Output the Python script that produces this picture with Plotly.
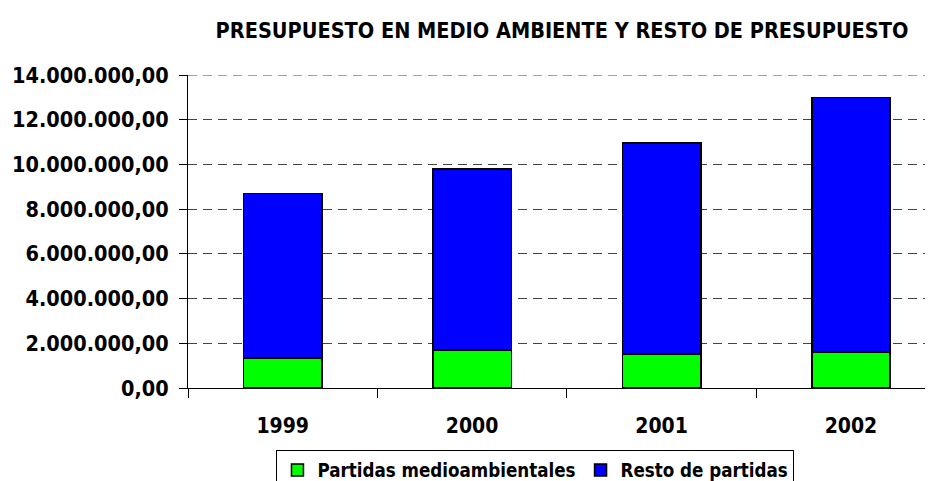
import plotly.graph_objects as go

years = ["1999", "2000", "2001", "2002"]
partidas_medioambientales = [1345000, 1690000, 1510000, 1600000]
resto_partidas = [7365000, 8100000, 9440000, 11400000]
y_ticks = [0, 2000000, 4000000, 6000000, 8000000, 10000000, 12000000, 14000000]

FONT = "DejaVu Sans Condensed, DejaVu Sans"

# page body has an 8px margin, so the figure is sized to fit the window
W, H = 925, 473

fig = go.Figure()
fig.add_trace(go.Bar(x=years, y=partidas_medioambientales, name="Partidas medioambientales",
                     marker=dict(color="#00ff00", line=dict(color="black", width=1.5)),
                     width=0.414))
fig.add_trace(go.Bar(x=years, y=resto_partidas, name="Resto de partidas",
                     marker=dict(color="#0000ff", line=dict(color="black", width=1.5)),
                     width=0.414))

# plotly drops the gridline sitting on the top edge, so draw it explicitly
fig.add_shape(type="line", xref="paper", yref="y", x0=0, x1=1,
              y0=y_ticks[-1], y1=y_ticks[-1],
              line=dict(color="#444444", width=1, dash="9px,6px"), layer="below")

fig.update_layout(
    width=W, height=H,
    barmode="stack",
    separators=",.",
    paper_bgcolor="white", plot_bgcolor="white",
    margin=dict(l=180, r=0, t=67, b=93, autoexpand=False),
    font=dict(family=FONT, color="black", size=20, weight="bold"),
    title=dict(text="PRESUPUESTO EN MEDIO AMBIENTE Y RESTO DE PRESUPUESTO",
               x=554 / W, xref="container", xanchor="center",
               y=1 - 22 / H, yref="container", yanchor="middle",
               font=dict(size=21.5, family=FONT, weight="bold")),
    xaxis=dict(type="category", range=[-0.5, 3.433], showline=True, linecolor="black",
               linewidth=1, ticks="outside", tickson="boundaries", ticklen=9,
               tickcolor="black", showgrid=False, ticklabelstandoff=19,
               automargin=False, tickfont=dict(size=21, weight="bold")),
    yaxis=dict(range=[0, 14000000], tickvals=y_ticks, tickformat=",.2f",
               showline=True, linecolor="black", linewidth=1, ticks="outside",
               ticklen=8, tickcolor="black", showgrid=True, gridcolor="#444444",
               griddash="9px,6px", gridwidth=1, zeroline=False, ticklabelstandoff=6,
               automargin=False, tickfont=dict(size=21.5, weight="bold")),
    legend=dict(orientation="h", x=0.4664, xanchor="center", y=-0.199, yanchor="top",
                bordercolor="black", borderwidth=1, font=dict(size=18.6, weight="bold"),
                traceorder="normal", itemwidth=30),
    bargap=0.5,
)

fig.write_html("out.html")
